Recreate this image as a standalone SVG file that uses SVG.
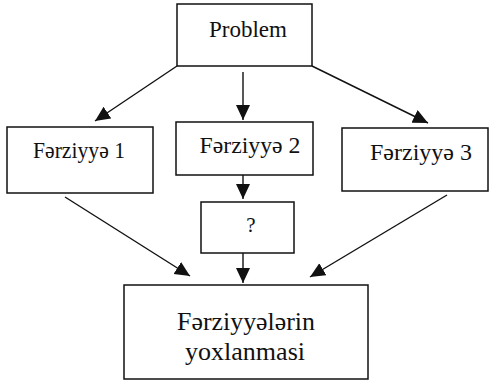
<svg xmlns="http://www.w3.org/2000/svg" width="490" height="385" viewBox="0 0 490 385">
<style>
.box{fill:#fff;stroke:#111;stroke-width:1.5}
.lbl{font-family:"Liberation Serif","Times New Roman",serif;fill:#111;text-anchor:middle}
.con{stroke:#111;stroke-width:1.4;fill:none;marker-end:url(#ah)}
</style>
<defs>
<marker id="ah" markerUnits="userSpaceOnUse" markerWidth="16" markerHeight="15" refX="15" refY="7" orient="auto">
<path d="M0,0 L15,7 L0,14 z" fill="#111"/>
</marker>
</defs>
<rect width="490" height="385" fill="#fff"/>
<g id="connectors">
<line class="con" x1="177" y1="66" x2="95" y2="121"/>
<line class="con" x1="243" y1="72" x2="243" y2="120"/>
<line class="con" x1="312" y1="66" x2="428" y2="123"/>
<line class="con" x1="243" y1="175" x2="243" y2="199"/>
<line class="con" x1="243" y1="253" x2="243" y2="283"/>
<line class="con" x1="65" y1="197" x2="190" y2="276"/>
<line class="con" x1="447" y1="195" x2="310" y2="277"/>
</g>
<g id="problem">
<rect class="box" x="177" y="4" width="135" height="62"/>
<text class="lbl" x="248" y="37" font-size="23" textLength="78" lengthAdjust="spacingAndGlyphs">Problem</text>
</g>
<g id="ferziyye1">
<rect class="box" x="7" y="127" width="146" height="66"/>
<text class="lbl" x="79" y="158" font-size="23" textLength="92" lengthAdjust="spacingAndGlyphs">Fərziyyə 1</text>
</g>
<g id="ferziyye2">
<rect class="box" x="176" y="122" width="137" height="53"/>
<text class="lbl" x="250" y="153" font-size="23" textLength="101" lengthAdjust="spacingAndGlyphs">Fərziyyə 2</text>
</g>
<g id="ferziyye3">
<rect class="box" x="342" y="128" width="146" height="63"/>
<text class="lbl" x="421" y="160" font-size="23" textLength="102" lengthAdjust="spacingAndGlyphs">Fərziyyə 3</text>
</g>
<g id="question">
<rect class="box" x="201" y="202" width="93" height="51"/>
<text class="lbl" x="251" y="232" font-size="21">?</text>
</g>
<g id="yoxlanma">
<rect class="box" x="124" y="285" width="244" height="94"/>
<text class="lbl" x="246" y="330" font-size="26" textLength="138" lengthAdjust="spacingAndGlyphs">Fərziyyələrin</text>
<text class="lbl" x="245" y="360" font-size="26" textLength="120" lengthAdjust="spacingAndGlyphs">yoxlanmasi</text>
</g>
</svg>
